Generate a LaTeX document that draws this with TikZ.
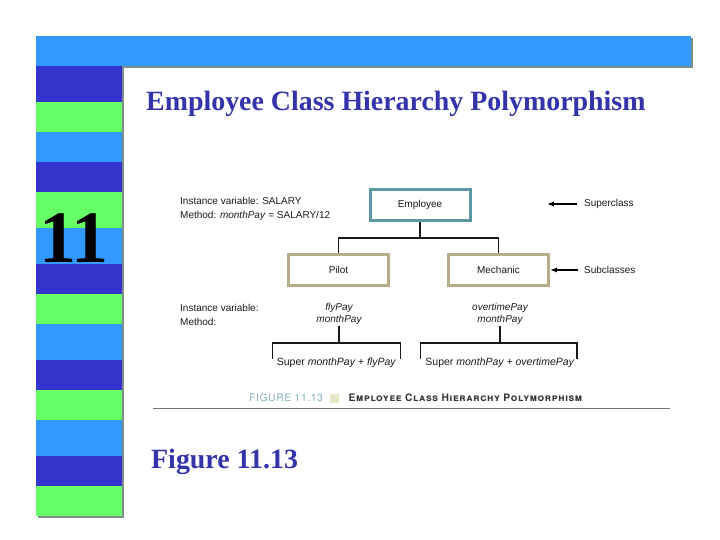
\documentclass[tikz,border=0pt]{standalone}
\usepackage{fontspec}
\setmainfont{Liberation Serif}
\setsansfont{Liberation Sans}
\newfontfamily\capfont[LetterSpace=6]{TeX Gyre Heros}
\usetikzlibrary{positioning, arrows.meta}
\definecolor{bandlight}{HTML}{3399FF}
\definecolor{banddark}{HTML}{3333CC}
\definecolor{bandgreen}{HTML}{66FF66}
\definecolor{bandshadow}{HTML}{7F8C8C}
\definecolor{superedge}{HTML}{5B98A4}
\definecolor{subedge}{HTML}{B7AC88}
\definecolor{figteal}{HTML}{7FB0BE}
\definecolor{figsquare}{HTML}{E8E6C8}
\definecolor{slideink}{HTML}{3333AA}
\newcommand{\diagfont}{\sffamily\fontsize{10}{14}\selectfont}

\begin{document}
\begin{tikzpicture}[
        x=1pt, y=-1pt,
        arrow/.style = {-{Latex[length=2.4mm, width=1.7mm]}, line width=1.1pt},
        link/.style = {line width=1.2pt, black!90},
        classbox/.style = {draw, line width=3pt, minimum width=100pt, minimum height=31pt, font=\diagfont, text=black!90},
        note/.style = {font=\diagfont, align=left, text=black!90, inner sep=0pt},
        vars/.style = {font=\diagfont\fontsize{10}{12}\selectfont\itshape, align=center, text=black!90, inner sep=1pt},
        slidetext/.style = {font=\rmfamily\bfseries\fontsize{27.9}{30}\selectfont, text=slideink, inner sep=0pt}
    ]
        \useasboundingbox (0,0) rectangle (720,540);
        % frame
        \fill[bandshadow] (38,38) rectangle (693,68);
        \fill[bandshadow] (38,68) rectangle (124,518);
        \fill[bandlight] (36,36) rectangle (691,66);
        \foreach \top/\bottom/\shade in {66/102/banddark, 102/132/bandgreen, 132/162/bandlight,
                162/192/banddark, 192/228/bandgreen, 228/264/bandlight, 264/294/banddark,
                294/324/bandgreen, 324/360/bandlight, 360/390/banddark, 390/420/bandgreen,
                420/456/bandlight, 456/486/banddark, 486/516/bandgreen}
            \fill[\shade] (36,\top) rectangle (122,\bottom);

        \node[font=\rmfamily\bfseries\fontsize{74}{74}\selectfont, inner sep=0pt] (chapter) at (74,238) {11};
        \node[slidetext, anchor=west] (title) at (146,104) {Employee Class Hierarchy Polymorphism};
        \node[slidetext, anchor=west] (figure) at (151,462) {Figure 11.13};

        % hierarchy
        \node[classbox, draw=superedge] (employee) at (420,205) {Employee};
        \node[classbox, draw=subedge, below=31pt of employee, xshift=-81.5pt] (pilot) {Pilot};
        \node[classbox, draw=subedge, right=57pt of pilot] (mechanic) {Mechanic};
        \coordinate (tee) at (employee |- 0,238);

        \draw[link] (employee) -- (tee);
        \draw[link] (pilot) |- (tee);
        \draw[link] (mechanic) |- (tee);

        \node[note, anchor=west] (superlabel) at (584,204) {Superclass};
        \node[note, anchor=west] (sublabel) at (584,270) {Subclasses};
        \draw[arrow] (superlabel.west) ++(-7,0) -- (547,204);
        \draw[arrow] (sublabel.west) ++(-6,0) -- (mechanic);

        \node[note, anchor=west] (supernote) at (180,209) {Instance variable: SALARY \\ Method: \textit{monthPay} = SALARY/12};
        \node[note, anchor=west] (subnote) at (180,315) {Instance variable: \\ Method:};

        % methods
        \node[vars] (flyvars) at (339,314) {flyPay \\ monthPay};
        \node[vars] (overtimevars) at (500,314) {overtimePay \\ monthPay};
        \node[note, inner sep=1pt, font=\diagfont\fontsize{10.5}{14}\selectfont] (flysuper) at (336.5,362.5) {Super \textit{monthPay + flyPay}};
        \node[note, inner sep=1pt, font=\diagfont\fontsize{10.5}{14}\selectfont] (overtimesuper) at (500,362.5) {Super \textit{monthPay + overtimePay}};

        \coordinate (flybar) at (flyvars |- 0,343);
        \coordinate (overtimebar) at (overtimevars |- 0,343);
        \draw[link] (flyvars) -- (flybar);
        \draw[link] (overtimevars) -- (overtimebar);
        \draw[link] (272.7,359) |- (flybar) -| (400.7,359);
        \draw[link] (420.7,359) |- (overtimebar) -| (577,359);

        % caption
        \node[font=\capfont\fontsize{10.3}{11}\selectfont, text=figteal, inner sep=0pt, anchor=west] (figlabel) at (249,398) {FIGURE 11.13};
        \node[fill=figsquare, minimum size=9pt, inner sep=0pt, right=7pt of figlabel] (figmark) {};
        \node[font=\capfont\bfseries\scshape\fontsize{10.3}{11}\selectfont, text=black!80, inner sep=0pt, right=9pt of figmark] (figtitle) {Employee Class Hierarchy Polymorphism};
        \coordinate (ruleleft) at (153,408);
        \coordinate (ruleright) at (670,408);
        \draw[black!55, line width=0.9pt] (ruleleft) -- (ruleright);
    \end{tikzpicture}
\end{document}
